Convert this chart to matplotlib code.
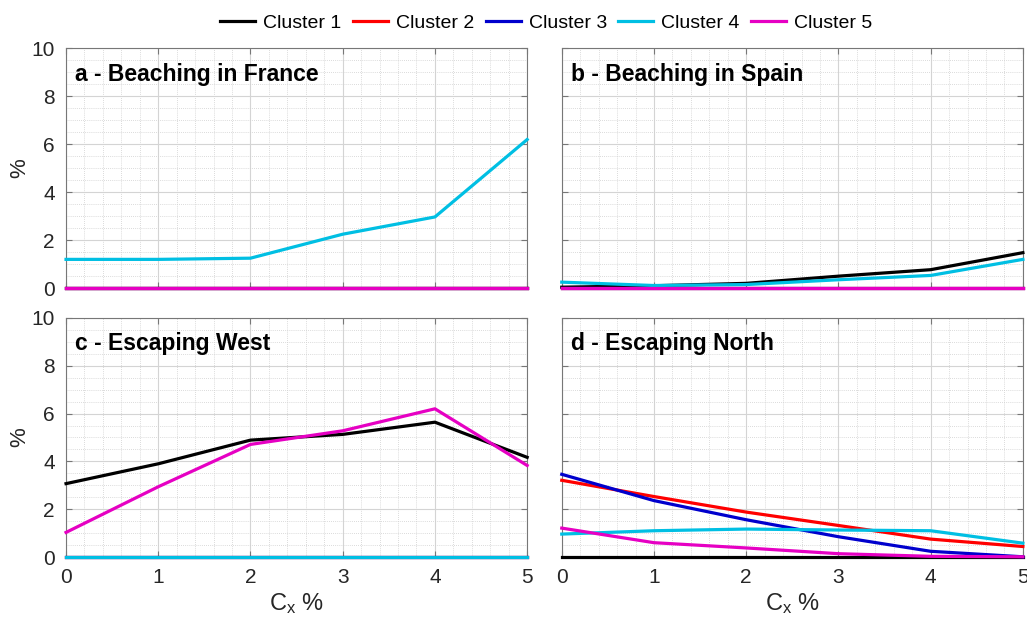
# Fraccion de particulas por cluster segun Cx
import numpy as np
import matplotlib.pyplot as plt
from matplotlib.ticker import MultipleLocator

plt.rcParams['font.family'] = ['Liberation Sans', 'DejaVu Sans']
plt.rcParams['mathtext.fontset'] = 'custom'
plt.rcParams['mathtext.rm'] = 'Liberation Sans'
plt.rcParams['mathtext.it'] = 'Liberation Sans'

cx = [0, 1, 2, 3, 4, 5]
clusters = ['Cluster 1', 'Cluster 2', 'Cluster 3', 'Cluster 4', 'Cluster 5']
colores = ['#000000', '#ff0000', '#0000cd', '#00bfe3', '#e600c3']
titulos = ['a - Beaching in France', 'b - Beaching in Spain',
           'c - Escaping West', 'd - Escaping North']

cero = [0, 0, 0, 0, 0, 0]

# a - Francia
fr_c4 = [1.2, 1.2, 1.25, 2.25, 2.97, 6.2]
francia = [cero, cero, cero, fr_c4, cero]

# b - Espana
es_c1 = [0.04, 0.1, 0.2, 0.5, 0.77, 1.48]
es_c4 = [0.25, 0.11, 0.15, 0.35, 0.53, 1.2]
espana = [es_c1, cero, cero, es_c4, cero]

# c - oeste
oe_c1 = [3.07, 3.9, 4.89, 5.13, 5.64, 4.17]
oe_c5 = [1.03, 2.94, 4.71, 5.28, 6.2, 3.83]
oeste = [oe_c1, cero, cero, cero, oe_c5]

# d - norte
no_c2 = [3.21, 2.53, 1.88, 1.32, 0.75, 0.44]
no_c3 = [3.46, 2.36, 1.56, 0.85, 0.24, 0.01]
no_c4 = [0.96, 1.1, 1.17, 1.13, 1.1, 0.58]
no_c5 = [1.21, 0.6, 0.38, 0.14, 0.03, 0.01]
norte = [cero, no_c2, no_c3, no_c4, no_c5]

datos = [francia, espana, oeste, norte]

fig = plt.figure(figsize=(10.27, 6.21), dpi=100)
pos = [[0.0643, 0.536, 0.449, 0.386],
       [0.547, 0.536, 0.449, 0.386],
       [0.0643, 0.103, 0.449, 0.385],
       [0.547, 0.103, 0.449, 0.385]]

lineas = []
for i in range(4):
    ax = fig.add_axes(pos[i])
    for j in range(5):
        l, = ax.plot(cx, datos[i][j], color=colores[j], lw=2.3,
                     label=clusters[j], clip_on=False, zorder=3)
        if i == 0:
            lineas.append(l)
    ax.set_xlim(0, 5)
    ax.set_ylim(0, 10)
    ax.xaxis.set_major_locator(MultipleLocator(1))
    ax.xaxis.set_minor_locator(MultipleLocator(0.2))
    ax.yaxis.set_major_locator(MultipleLocator(2))
    ax.yaxis.set_minor_locator(MultipleLocator(0.5))
    ax.grid(which='major', color='#d4d4d4', lw=0.8)
    ax.grid(which='minor', color='#cfcfcf', lw=0.6, ls=(0, (1, 1.5)))
    ax.set_axisbelow(True)
    ax.tick_params(which='both', direction='in', top=True, right=True,
                   labelsize=15, colors='#262626', pad=8)
    ax.tick_params(which='minor', length=0)
    ax.tick_params(which='major', length=4, color='#777777')
    for s in ax.spines.values():
        s.set_color('#777777')
        s.set_linewidth(0.8)
    ax.text(0.02, 0.94, titulos[i], transform=ax.transAxes, fontsize=16.5,
            fontweight='bold', va='top', ha='left')
    if i % 2 == 1:
        ax.set_yticklabels([])
    else:
        ax.set_ylabel('%', fontsize=16, color='#262626')
        ax.yaxis.set_label_coords(-0.078, 0.5)
    if i < 2:
        ax.set_xticklabels([])
    else:
        ax.set_xlabel('C$_x$ %', fontsize=17, color='#262626', labelpad=3)

fig.legend(handles=lineas, loc='upper center', bbox_to_anchor=(0.532, 1.005),
           ncol=5, frameon=False, fontsize=14, handlelength=1.8,
           columnspacing=0.6, handletextpad=0.4)

fig.savefig('out.png', dpi=100)
